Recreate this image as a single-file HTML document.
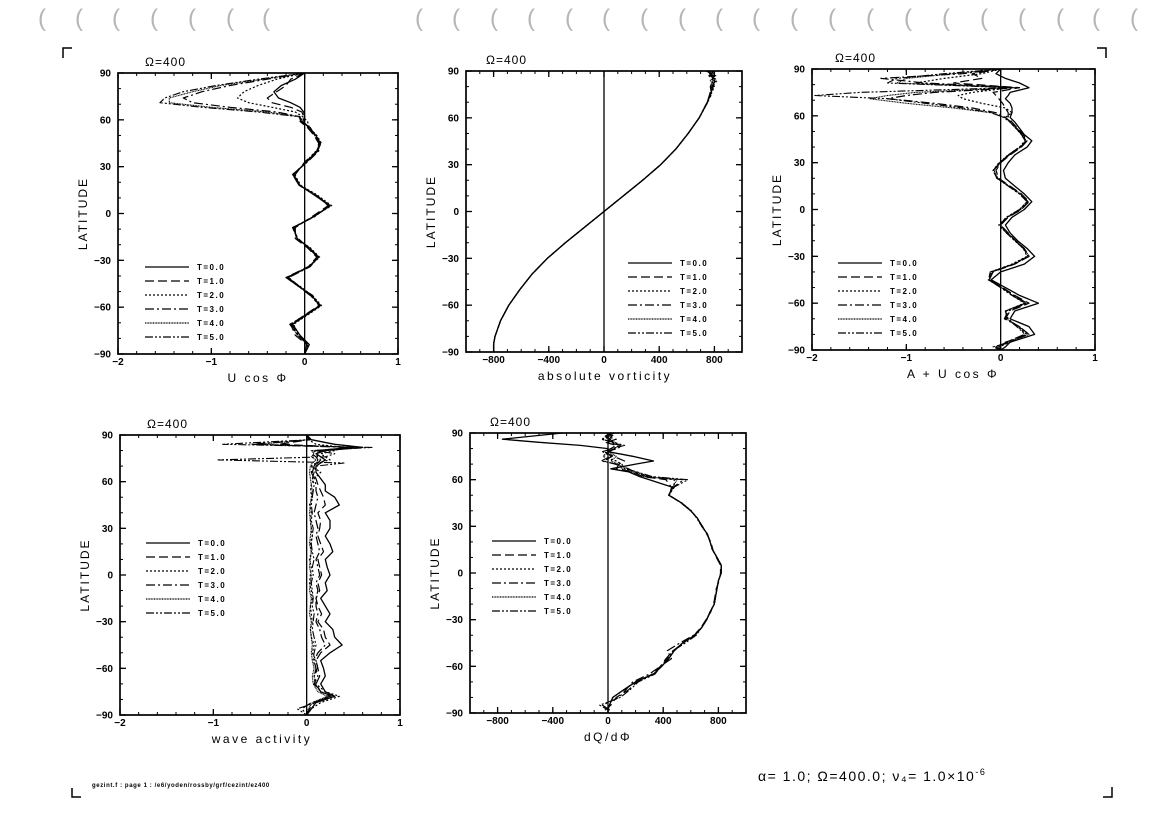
<!DOCTYPE html>
<html><head><meta charset="utf-8">
<style>
body{margin:0;background:#fff;}
svg{display:block;font-family:"Liberation Sans",Arial,sans-serif;}
text{fill:#000;}
</style></head>
<body>
<svg id="chart" width="1167" height="828" viewBox="0 0 1167 828">
<g id="artifacts"></g>
<g stroke="#000" stroke-width="1.5" fill="none">
<path d="M63 58 V48 H72"/><path d="M72 788 V797 H81"/><path d="M1097 48 H1106 V58"/><path d="M1103 797 H1112 V787"/>
</g>
<text x="92" y="787" font-size="6" font-weight="bold" letter-spacing="0.6">gezint.f : page 1 : /e6/yoden/rossby/grf/cezint/ez400</text>
<text x="758" y="781" font-size="14" letter-spacing="1.5">α= 1.0; Ω=400.0; ν₄= 1.0×10<tspan dy="-6" font-size="9">-6</tspan></text>
</svg>
<script>
// ---------- data ----------
const legendLabels = ["T=0.0","T=1.0","T=2.0","T=3.0","T=4.0","T=5.0"];
const uTicks = [-2,-1,0,1];
const vTicks = [-800,-400,0,400,800];
const latTicks = [90,60,30,0,-30,-60,-90];

// Panel 1: U cos phi
const lat1 = [90,86,82,78,74,71,68,65,62,59,55,50,45,40,33,25,18,12,5,-2,-9,-16,-22,-28,-34,-41,-47,-53,-59,-65,-71,-78,-84,-90];
const u1T0 = [0,-0.1,-0.25,-0.33,-0.28,-0.15,-0.05,-0.01,0,-0.02,0.05,0.12,0.17,0.14,0.02,-0.12,-0.05,0.1,0.27,0.1,-0.12,-0.08,0.05,0.15,0.05,-0.18,-0.05,0.08,0.17,0.02,-0.13,-0.05,0.05,0];
const u1T1 = [0,-0.15,-0.2,-0.3,-0.4,-0.35,-0.15,-0.03,-0.01,-0.05,0.03,0.1,0.15,0.13,0,-0.1,-0.06,0.12,0.25,0.08,-0.1,-0.1,0.03,0.13,0.04,-0.2,-0.06,0.1,0.15,0,-0.15,-0.1,0.02,0];
const u1T2 = [0,-0.3,-0.5,-0.65,-0.72,-0.6,-0.35,-0.1,-0.02,0.03,0.05,0.13,0.18,0.12,0.01,-0.11,-0.04,0.13,0.29,0.09,-0.11,-0.09,0.06,0.16,0.05,-0.19,-0.04,0.09,0.18,0.03,-0.12,-0.06,0.03,0];
const u1T3 = [0,-0.4,-0.8,-1.1,-1.3,-1.2,-0.8,-0.3,-0.05,-0.04,0.06,0.11,0.16,0.15,0.03,-0.13,-0.06,0.11,0.26,0.11,-0.13,-0.07,0.04,0.14,0.06,-0.17,-0.05,0.07,0.16,0.01,-0.14,-0.07,0.04,0];
const u1T4 = [0,-0.45,-0.9,-1.2,-1.45,-1.45,-1.0,-0.4,-0.05,-0.03,0.04,0.12,0.17,0.14,0.02,-0.12,-0.05,0.12,0.28,0.1,-0.12,-0.08,0.05,0.15,0.05,-0.19,-0.05,0.08,0.17,0.02,-0.14,-0.08,0.03,0];
const u1T5 = [0,-0.5,-0.95,-1.3,-1.5,-1.55,-1.1,-0.5,-0.06,-0.04,0.05,0.11,0.16,0.13,0.02,-0.13,-0.05,0.11,0.27,0.1,-0.13,-0.08,0.05,0.14,0.05,-0.2,-0.06,0.07,0.16,0.01,-0.16,-0.07,0.04,0];

// Panel 2: absolute vorticity
const lat2 = [90,87,84,80,75,70,60,50,40,30,20,10,0,-10,-20,-30,-40,-50,-60,-70,-80,-85,-90];
const v2T0 = [760,790,800,790,770,750,690,610,520,410,280,140,0,-140,-280,-410,-520,-610,-690,-750,-790,-800,-800];
const v2T1 = [790,770,810,780,765,748,690,610,520,410,280,140,0,-140,-280,-410,-520,-610,-690,-750,-790,-800,-800];
const v2T2 = [740,800,780,800,775,752,690,610,520,410,280,140,0,-140,-280,-410,-520,-610,-690,-750,-790,-800,-800];
const v2T3 = [800,760,790,770,780,748,690,610,520,410,280,140,0,-140,-280,-410,-520,-610,-690,-750,-790,-800,-800];
const v2T4 = [770,810,770,795,768,750,690,610,520,410,280,140,0,-140,-280,-410,-520,-610,-690,-750,-790,-800,-800];
const v2T5 = [750,780,820,785,772,751,690,610,520,410,280,140,0,-140,-280,-410,-520,-610,-690,-750,-790,-800,-800];

// Panel 3: A + U cos phi
const lat3 = [90,87,84,81,78,75,73,71,68,65,62,59,56,52,48,44,40,35,30,25,20,15,10,5,0,-5,-10,-15,-20,-25,-30,-35,-40,-45,-50,-55,-60,-65,-70,-75,-80,-85,-88,-90];
const a3T0 = [0,-0.05,0.05,0.2,0.3,0.1,0.08,0.05,0.1,0.12,0.12,0.1,0.15,0.2,0.25,0.33,0.28,0.15,0.08,0.03,0.05,0.15,0.25,0.33,0.25,0.12,0.05,0.1,0.18,0.28,0.36,0.25,0,-0.1,0.05,0.2,0.4,0.15,0.1,0.3,0.36,0.1,0.05,0];
const a3T1 = [0,-0.3,-0.2,-0.5,0.2,-0.08,-0.05,-0.02,0.02,0.05,0.08,0.08,0.12,0.18,0.24,0.28,0.22,0.1,0,-0.05,-0.02,0.1,0.22,0.3,0.22,0.08,0,0.08,0.16,0.25,0.3,0.15,-0.08,-0.12,0.02,0.15,0.3,0.1,0.05,0.2,0.3,0.05,-0.05,0];
const a3T2 = [0,-0.2,-0.6,-0.9,0.1,-0.3,-0.45,-0.4,-0.2,0.05,0.12,0.05,0.1,0.16,0.22,0.26,0.2,0.08,-0.02,-0.08,-0.03,0.08,0.2,0.28,0.2,0.06,-0.02,0.06,0.15,0.24,0.28,0.12,-0.1,-0.12,0,0.12,0.25,0.05,0.08,0.18,0.28,0.1,-0.02,0];
const a3T3 = [0,-0.4,-1.27,-0.8,0.2,-0.7,-1.0,-1.2,-0.7,-0.3,-0.05,0.05,0.11,0.17,0.23,0.27,0.21,0.09,-0.01,-0.08,-0.04,0.09,0.21,0.29,0.21,0.07,-0.01,0.07,0.15,0.25,0.3,0.14,-0.1,-0.13,0.01,0.14,0.28,0.08,0.04,0.2,0.25,0.06,-0.03,0];
const a3T4 = [0,-0.5,-1.0,-1.1,0.15,-0.9,-1.2,-1.39,-1.0,-0.5,-0.1,0.04,0.1,0.17,0.23,0.27,0.21,0.09,0,-0.07,-0.03,0.09,0.21,0.29,0.21,0.07,0,0.07,0.16,0.25,0.3,0.14,-0.09,-0.12,0.01,0.13,0.27,0.06,0.06,0.19,0.3,0.08,-0.01,0];
const a3T5 = [0,-0.6,-1.1,-1.2,0.1,-1.5,-1.97,-1.2,-0.8,-0.4,-0.1,0.03,0.1,0.16,0.22,0.26,0.2,0.08,-0.01,-0.08,-0.04,0.08,0.2,0.28,0.2,0.06,-0.01,0.06,0.15,0.24,0.29,0.13,-0.11,-0.13,0,0.12,0.26,0.05,0.07,0.17,0.26,0.1,-0.08,0];

// Panel 4: wave activity
const lat4 = [90,87,84,82,80,78,76,74,72,70,66,62,58,54,50,45,40,35,30,25,20,15,10,5,0,-5,-10,-15,-20,-25,-30,-35,-40,-45,-50,-55,-60,-65,-70,-75,-78,-82,-86,-90];
const w4T0 = [0,0.05,0.3,0.6,0.2,0.1,0.15,0.2,0.15,0.1,0.1,0.15,0.2,0.2,0.3,0.35,0.2,0.25,0.25,0.2,0.25,0.28,0.2,0.22,0.25,0.2,0.22,0.15,0.2,0.25,0.2,0.28,0.3,0.38,0.25,0.15,0.18,0.2,0.15,0.2,0.3,0.1,0.05,0];
const w4T1 = [0,0.03,-0.3,0.5,0.1,0.05,0.1,0.12,0.1,0.08,0.06,0.1,0.12,0.15,0.18,0.2,0.12,0.15,0.14,0.12,0.15,0.18,0.12,0.14,0.16,0.12,0.14,0.1,0.12,0.16,0.12,0.18,0.2,0.25,0.15,0.1,0.12,0.14,0.1,0.15,0.25,0.08,0.03,0];
const w4T2 = [0,0.02,0.1,0.4,0.3,0.15,0.2,0.25,0.1,0.05,0.15,0.08,0.05,0.04,0.06,0.03,0.05,0.04,0.05,0.06,0.04,0.05,0.03,0.05,0.04,0.03,0.05,0.06,0.04,0.05,0.06,0.04,0.05,0.08,0.06,0.1,0.12,0.08,0.1,0.2,0.35,0.15,0.05,0];
const w4T3 = [0,0.04,-0.6,0.45,0.15,0.1,0.12,0.15,0.12,0.06,0.05,0.08,0.1,0.1,0.12,0.1,0.08,0.1,0.12,0.1,0.12,0.14,0.1,0.12,0.14,0.1,0.12,0.1,0.1,0.12,0.1,0.14,0.16,0.2,0.12,0.08,0.1,0.12,0.08,0.15,0.28,0.05,-0.05,0];
const w4T4 = [0,0.02,-0.5,0.55,0.05,0.08,0.05,0.1,0.06,0.04,0.03,0.04,0.05,0.06,0.05,0.04,0.03,0.04,0.05,0.04,0.03,0.05,0.04,0.03,0.05,0.04,0.03,0.05,0.04,0.03,0.05,0.04,0.05,0.06,0.05,0.06,0.08,0.06,0.07,0.12,0.22,0.06,0.02,0];
const w4T5 = [0,0.03,-0.9,0.7,0.1,0.3,0.2,-0.95,0.4,0.1,0.08,0.06,0.08,0.07,0.06,0.05,0.06,0.05,0.07,0.06,0.05,0.06,0.08,0.06,0.07,0.05,0.06,0.07,0.06,0.08,0.07,0.06,0.08,0.1,0.08,0.07,0.1,0.08,0.09,0.15,0.3,0.1,-0.1,0];

// Panel 5: dQ/dphi
const lat5 = [90,88,86,84,82,80,78,75,72,70,67,65,62,60,55,50,45,40,35,30,25,20,15,10,5,0,-5,-10,-15,-20,-25,-30,-35,-40,-45,-50,-55,-60,-65,-70,-75,-80,-85,-88,-90];
const q5T0 = [-330,-550,-765,-500,-200,0,0,180,330,200,20,150,230,300,470,440,535,600,650,680,720,740,757,790,820,820,800,790,780,770,740,715,680,630,540,480,440,390,330,200,115,35,10,0,0];
const q5T1 = [50,-30,20,-20,60,20,-30,40,120,80,60,180,250,420,460,445,530,600,650,685,715,745,760,785,815,815,805,785,775,765,745,710,675,625,545,470,420,380,320,210,150,60,20,-20,0];
const q5T2 = [0,40,-40,30,80,50,10,-40,60,100,120,200,300,480,480,440,535,605,645,680,720,740,755,790,820,820,800,790,780,770,740,715,680,630,540,480,440,390,330,200,115,35,10,0,0];
const q5T3 = [20,-20,60,-10,100,70,-20,30,-30,50,150,190,280,550,470,440,535,600,650,680,720,740,757,790,820,820,800,790,780,770,740,715,680,620,520,430,460,380,300,180,130,80,-40,10,0];
const q5T4 = [-10,30,0,50,90,40,0,60,20,80,100,170,260,500,465,440,535,600,650,680,720,740,757,790,820,820,800,790,780,770,740,715,680,630,540,480,440,390,330,200,115,35,10,0,0];
const q5T5 = [30,10,-50,40,120,30,-40,20,-50,60,130,210,320,580,475,445,530,600,650,680,720,740,757,790,820,820,800,790,780,770,740,715,680,640,560,470,430,385,340,220,160,90,-60,0,0];

// ---------- drawing ----------
const NS = "http://www.w3.org/2000/svg";
const svg = document.getElementById("chart");
const dashes = ["", "9,4", "2,2", "9,3,2,3", "1,0.6", "8,2,2,2,2,2"];
const widths = [1.3, 1.2, 1.2, 1.2, 1.1, 1.1];

function mk(tag, attrs, parent){ const e=document.createElementNS(NS,tag); for(const k in attrs) e.setAttribute(k,attrs[k]); parent.appendChild(e); return e; }

// scan artifacts along top edge
const art = document.getElementById("artifacts");
[38,75,112,150,188,226,262,415,452,490,527,565,602,640,678,715,752,790,828,866,904,942,980,1018,1056,1092,1130].forEach(x=>{
  const t = mk("text",{x:x,y:26,"font-size":24,style:"fill:#b5b5b5","font-weight":"100"},art);
  t.textContent="(";
});

function drawPanel(p){
  const g = mk("g",{},svg);
  
  
  const xs = v => p.x0 + (v - p.xmin) / (p.xmax - p.xmin) * (p.x1 - p.x0);
  const ys = v => p.y0 + (90 - v) / 180 * (p.y1 - p.y0);
  const fr = mk("rect",{x:p.x0,y:p.y0,width:p.x1-p.x0,height:p.y1-p.y0,fill:"none",stroke:"#000","stroke-width":1.7},g);
  
  
  const zl = mk("line",{x1:xs(0),x2:xs(0),y1:p.y0,y2:p.y1,stroke:"#000","stroke-width":1.3},g);
  
  
  for(let v=p.xmin; v<=p.xmax+1e-9; v+=p.xminor){
    const x=xs(v);
    mk("line",{x1:x,x2:x,y1:p.y1,y2:p.y1-3,stroke:"#000"},g);
    mk("line",{x1:x,x2:x,y1:p.y0,y2:p.y0+3,stroke:"#000"},g);
  }
  for(let v=-90; v<=90; v+=10){
    const y=ys(v);
    mk("line",{x1:p.x0,x2:p.x0+3,y1:y,y2:y,stroke:"#000"},g);
    mk("line",{x1:p.x1,x2:p.x1-3,y1:y,y2:y,stroke:"#000"},g);
  }
  p.xticks.forEach(v=>{
    const x=xs(v);
    mk("line",{x1:x,x2:x,y1:p.y1,y2:p.y1-6,stroke:"#000","stroke-width":1.3},g);
    mk("line",{x1:x,x2:x,y1:p.y0,y2:p.y0+6,stroke:"#000","stroke-width":1.3},g);
    const t=mk("text",{x:x,y:p.y1+11,"font-size":10,"font-weight":"bold","text-anchor":"middle"},g);
    t.textContent = v<0 ? "−"+(-v) : String(v);
    
    
  });
  latTicks.forEach(v=>{
    const y=ys(v);
    mk("line",{x1:p.x0,x2:p.x0+6,y1:y,y2:y,stroke:"#000","stroke-width":1.3},g);
    mk("line",{x1:p.x1,x2:p.x1-6,y1:y,y2:y,stroke:"#000","stroke-width":1.3},g);
    const t=mk("text",{x:p.x0-7,y:y+3.5,"font-size":10,"font-weight":"bold","text-anchor":"end"},g);
    t.textContent = v<0 ? "−"+(-v) : String(v);
    
    
  });
  const yt=mk("text",{x:0,y:0,"font-size":12,"letter-spacing":2,"text-anchor":"middle",transform:`translate(${p.x0-31},${(p.y0+p.y1)/2}) rotate(-90)`},g);
  yt.textContent="LATITUDE";
  
  
  const xt=mk("text",{x:p.xlabX,y:p.y1+28,"font-size":12,"letter-spacing":2.5,"text-anchor":"middle"},g);
  xt.textContent=p.xlabel;
  
  
  const tt=mk("text",{x:p.titleX,y:p.y0-7,"font-size":12,"letter-spacing":1},g);
  tt.textContent="Ω=400";
  
  
  p.series.forEach((vals,i)=>{
    let d="";
    p.lats.forEach((la,k)=>{ d += (k?"L":"M")+xs(vals[k]).toFixed(1)+" "+ys(la).toFixed(1); });
    const path=mk("path",{d:d,fill:"none",stroke:"#000","stroke-width":widths[i],"stroke-dasharray":dashes[i],"stroke-linejoin":"round"},g);
    
    
  });
  legendLabels.forEach((lab,i)=>{
    const y=p.legY+i*14;
    const ln=mk("line",{x1:p.legX,x2:p.legX+44,y1:y,y2:y,stroke:"#000","stroke-width":1.2,"stroke-dasharray":dashes[i]},g);
    
    
    const t=mk("text",{x:p.legX+52,y:y+3,"font-size":8,"font-weight":"bold","letter-spacing":1.5},g);
    t.textContent=lab;
    
    
  });
}

drawPanel({name:"panel-u-cos-phi",x0:118,x1:398,y0:73,y1:354,xmin:-2,xmax:1,xminor:0.2,xticks:uTicks,xlabel:"U cos Φ",xlabX:258,titleX:145,legX:145,legY:267,lats:lat1,series:[u1T0,u1T1,u1T2,u1T3,u1T4,u1T5]});
drawPanel({name:"panel-absolute-vorticity",x0:466,x1:742,y0:71,y1:352,xmin:-1000,xmax:1000,xminor:100,xticks:vTicks,xlabel:"absolute vorticity",xlabX:605,titleX:486,legX:628,legY:263,lats:lat2,series:[v2T0,v2T1,v2T2,v2T3,v2T4,v2T5]});
drawPanel({name:"panel-a-plus-u-cos-phi",x0:812,x1:1095,y0:69,y1:350,xmin:-2,xmax:1,xminor:0.2,xticks:uTicks,xlabel:"A + U cos Φ",xlabX:953,titleX:835,legX:838,legY:263,lats:lat3,series:[a3T0,a3T1,a3T2,a3T3,a3T4,a3T5]});
drawPanel({name:"panel-wave-activity",x0:120,x1:400,y0:435,y1:715,xmin:-2,xmax:1,xminor:0.2,xticks:uTicks,xlabel:"wave activity",xlabX:262,titleX:147,legX:146,legY:543,lats:lat4,series:[w4T0,w4T1,w4T2,w4T3,w4T4,w4T5]});
drawPanel({name:"panel-dq-dphi",x0:470,x1:746,y0:433,y1:713,xmin:-1000,xmax:1000,xminor:100,xticks:vTicks,xlabel:"dQ/dΦ",xlabX:608,titleX:490,legX:492,legY:541,lats:lat5,series:[q5T0,q5T1,q5T2,q5T3,q5T4,q5T5]});
</script>
</body></html>
